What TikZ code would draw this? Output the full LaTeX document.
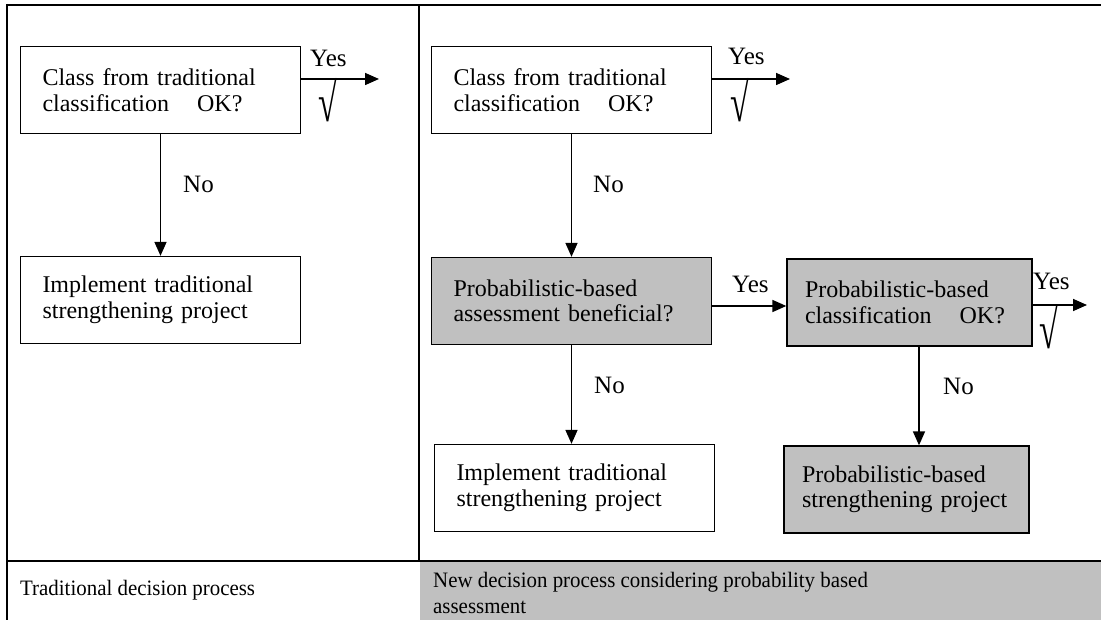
\documentclass[tikz,border=0pt]{standalone}
\usepackage{fontspec}
\usepackage{graphicx}
\setmainfont{Liberation Serif}
\newfontfamily\capfont[FakeStretch=0.95]{Liberation Serif}
\usetikzlibrary{arrows.meta}
\definecolor{cellgrey}{RGB}{192,192,192}
\newcommand{\okline}[1]{\mbox{#1\hspace{20pt} OK?}}
\begin{document}
\begin{tikzpicture}[x=1pt,y=-1pt,
  stepbox/.style={draw=black, line width=1.3pt, inner ysep=0pt,
    minimum height=87pt, align=left, anchor=center,
    font=\fontsize{24}{25.5}\selectfont},
  wide/.style={text width=236pt, inner xsep=22pt},
  narrow/.style={text width=209pt, inner xsep=18pt},
  shaded/.style={fill=cellgrey},
  flow/.style={line width=1.6pt, -{Triangle[length=14pt,width=12pt]}},
  lbl/.style={inner sep=0pt, anchor=base west, font=\fontsize{25}{26}\selectfont},
  tick/.style={inner sep=0pt, anchor=north west, font=\fontsize{34}{34}\selectfont},
  celltext/.style={inner sep=0pt, anchor=west, align=left, font=\capfont\fontsize{22}{26}\selectfont},
  rule/.style={line width=2.5pt}
]
\useasboundingbox (0,0) rectangle (1101,620);

% table frame
\fill[cellgrey] (420,562) rectangle (1101,620);
\draw[rule] (7,5) -- (1101,5);
\draw[rule] (7,4) -- (7,620);
\draw[rule] (7,561) -- (1101,561);
\draw[line width=1.6pt] (419,5) -- (419,561);

% traditional process
\node[stepbox, wide] (L1) at (160.5,90) {Class from traditional\\\okline{classification}};
\node[stepbox, wide] (L2) at (160.5,300) {Implement traditional\\\mbox{strengthening project}};
\coordinate (L1yes) at (379,79);
\draw[flow] (L1.east |- L1yes) -- (L1yes);
\node[lbl] (L1y) at (310,67) {Yes};
\node[tick] (L1t) at (318,78) {\scalebox{1}[1.6]{√}};
\draw[flow] (L1) -- (L2);
\node[lbl] (L1n) at (183,193) {No};

% new process
\node[stepbox, wide] (R1) at (571.5,90) {Class from traditional\\\okline{classification}};
\node[stepbox, wide, shaded] (R2) at (571.5,301) {Probabilistic-based\\\mbox{assessment beneficial?}};
\node[stepbox, wide] (R3) at (574.5,488) {Implement traditional\\\mbox{strengthening project}};
\node[stepbox, narrow, shaded] (R4) at (909.5,302.5) {Probabilistic-based\\\okline{classification}};
\node[stepbox, narrow, shaded] (R5) at (906.5,489.5) {Probabilistic-based\\\mbox{strengthening project}};

\coordinate (R1yes) at (790,79);
\draw[flow] (R1.east |- R1yes) -- (R1yes);
\node[lbl] (R1y) at (728,65) {Yes};
\node[tick] (R1t) at (730,78) {\scalebox{1}[1.6]{√}};

\draw[flow] (R1.south -| R2.north) -- (R2.north);
\node[lbl] (R1n) at (593,193) {No};

\draw[flow] ([yshift=-5pt]R2.east) -- ([yshift=-5pt]R2.east -| R4.west);
\node[lbl] (R2y) at (732,293) {Yes};

\draw[flow] (R2.south) -- (R2.south |- R3.north);
\node[lbl] (R2n) at (594,394) {No};

\coordinate (R4yes) at (1087,305);
\draw[flow] (R4.east |- R4yes) -- (R4yes);
\node[lbl] (R4y) at (1033,290) {Yes};
\node[tick] (R4t) at (1039,305) {\scalebox{1}[1.6]{√}};

\draw[flow] (R4.south -| 919,0) -- (R5.north -| 919,0);
\node[lbl] (R4n) at (943,395) {No};

% bottom row captions
\node[celltext] (capL) at (20,590) {Traditional decision process};
\node[celltext] (capR) at (433,593) {New decision process considering probability based\\assessment};
\end{tikzpicture}
\end{document}
